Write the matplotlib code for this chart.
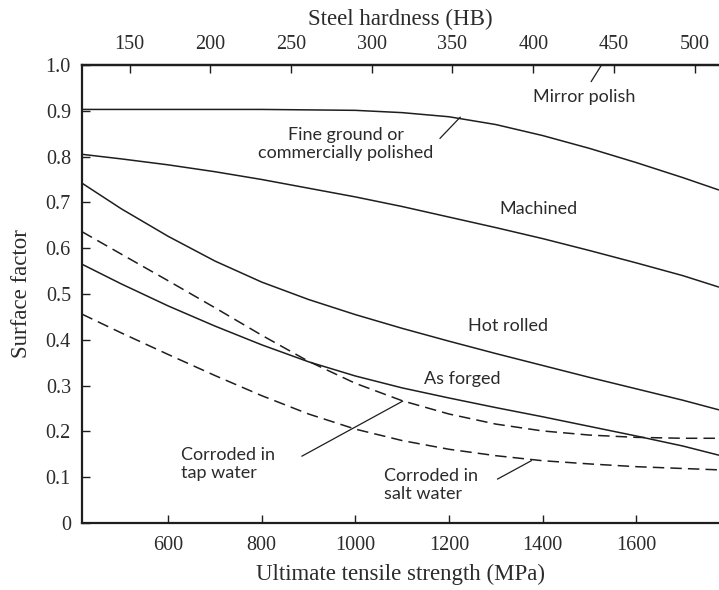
import matplotlib
matplotlib.use("Agg")
import matplotlib.pyplot as plt
from matplotlib.ticker import FuncFormatter

# Ultimate tensile strength (MPa) at which each curve is sampled
strength = [416, 500, 600, 700, 800, 900, 1000, 1100, 1200, 1300, 1400, 1500, 1600, 1700, 1777]

mirror_polish = [1.0] * len(strength)
fine_ground = [0.903, 0.903, 0.903, 0.903, 0.903, 0.902, 0.901, 0.896, 0.887, 0.870, 0.846, 0.818, 0.787, 0.754, 0.727]
machined = [0.805, 0.795, 0.782, 0.767, 0.750, 0.731, 0.712, 0.691, 0.668, 0.645, 0.621, 0.595, 0.568, 0.540, 0.515]
hot_rolled = [0.742, 0.686, 0.626, 0.572, 0.526, 0.488, 0.455, 0.425, 0.397, 0.370, 0.344, 0.318, 0.293, 0.268, 0.247]
as_forged = [0.565, 0.522, 0.474, 0.430, 0.389, 0.352, 0.321, 0.295, 0.273, 0.252, 0.232, 0.211, 0.190, 0.168, 0.148]
tap_water = [0.636, 0.587, 0.529, 0.470, 0.410, 0.353, 0.305, 0.267, 0.238, 0.216, 0.201, 0.192, 0.187, 0.185, 0.185]
salt_water = [0.456, 0.415, 0.368, 0.322, 0.278, 0.238, 0.205, 0.180, 0.161, 0.147, 0.136, 0.129, 0.123, 0.119, 0.116]

x_ticks = [600, 800, 1000, 1200, 1400, 1600]
y_ticks = [0, 0.1, 0.2, 0.3, 0.4, 0.5, 0.6, 0.7, 0.8, 0.9, 1.0]
hb_ticks = [150, 200, 250, 300, 350, 400, 450, 500]
HB_FACTOR = 3.45  # Su [MPa] ~ 3.45 * HB

INK = "#1e1e1e"
TEXT = "#2b2b2b"
SERIF = "Liberation Serif"
SANS = "Lato"

fig = plt.figure(figsize=(7.19, 5.90), dpi=100)
ax = fig.add_axes([82 / 719, 1 - 523 / 590, (719 - 82) / 719, (523 - 65) / 590])

solid = dict(color=INK, lw=1.1, solid_capstyle="butt", solid_joinstyle="round")
dashed = dict(color=INK, lw=1.1, linestyle=(0, (7.5, 4.0)))

ax.plot(strength, mirror_polish, clip_on=False, **solid)
ax.plot(strength, fine_ground, **solid)
ax.plot(strength, machined, **solid)
ax.plot(strength, hot_rolled, **solid)
ax.plot(strength, as_forged, **solid)
ax.plot(strength, tap_water, **dashed)
ax.plot(strength, salt_water, **dashed)

ax.set_xlim(416, 1777)
ax.set_ylim(0, 1.0)

ax.spines["right"].set_visible(False)
for side in ("left", "bottom", "top"):
    ax.spines[side].set_linewidth(1.6)
    ax.spines[side].set_color(INK)

ax.set_xticks(x_ticks)
ax.set_yticks(y_ticks)
ax.yaxis.set_major_formatter(FuncFormatter(lambda v, p: "0" if v == 0 else f"{v:.1f}"))
ax.tick_params(axis="both", direction="in", length=6, width=1.0, color=INK,
               labelsize=14.5, labelcolor=TEXT)
ax.tick_params(axis="x", pad=9)
ax.tick_params(axis="y", pad=8)
for lbl in ax.get_xticklabels() + ax.get_yticklabels():
    lbl.set_fontfamily(SERIF)

ax.set_xlabel("Ultimate tensile strength (MPa)", fontsize=16.5, family=SERIF,
              color=TEXT, labelpad=7)
ax.set_ylabel("Surface factor", fontsize=16.5, family=SERIF, color=TEXT, labelpad=10)

top = ax.secondary_xaxis("top", functions=(lambda s: s / HB_FACTOR, lambda h: h * HB_FACTOR))
top.set_xticks(hb_ticks)
top.tick_params(direction="in", length=6, width=1.0, color=INK, labelsize=14.5,
                labelcolor=TEXT, pad=8)
top.spines["top"].set_linewidth(1.6)
for lbl in top.get_xticklabels():
    lbl.set_fontfamily(SERIF)
top.set_xlabel("Steel hardness (HB)", fontsize=16.5, family=SERIF, color=TEXT, labelpad=7)

# Curve labels and leader lines
lab = dict(fontsize=13, family=SANS, color=TEXT)
leader = dict(color=INK, lw=0.9)

ax.text(1489, 0.930, "Mirror polish", ha="center", va="center", **lab)
ax.plot([1504, 1526], [0.964, 1.0], clip_on=False, **leader)

ax.text(979, 0.828, "Fine ground or\ncommercially polished", ha="center", va="center",
        linespacing=1.15, **lab)
ax.plot([1181, 1224], [0.840, 0.886], **leader)

ax.text(1391, 0.686, "Machined", ha="center", va="center", **lab)
ax.text(1326, 0.430, "Hot rolled", ha="center", va="center", **lab)
ax.text(1229, 0.314, "As forged", ha="center", va="center", **lab)

ax.text(628, 0.129, "Corroded in\ntap water", ha="left", va="center",
        linespacing=1.15, **lab)
ax.plot([886, 1101], [0.146, 0.266], **leader)

ax.text(1061, 0.082, "Corroded in\nsalt water", ha="left", va="center",
        linespacing=1.15, **lab)
ax.plot([1304, 1376], [0.096, 0.136], **leader)

fig.savefig("out.png", dpi=100)
